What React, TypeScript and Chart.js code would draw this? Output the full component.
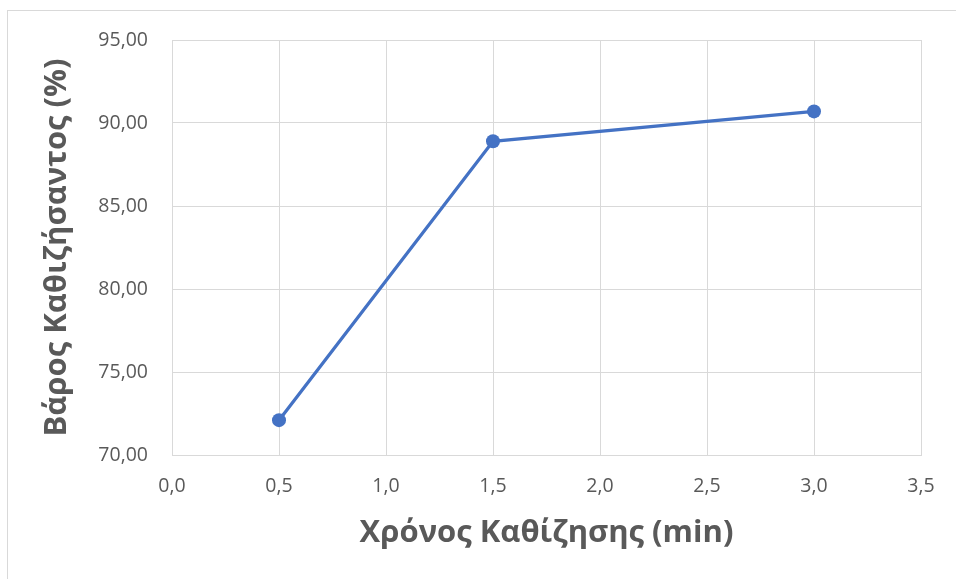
import React, { useEffect, useRef } from "react";
import { Chart, registerables } from "chart.js";

Chart.register(...registerables);

// Settling time (min) and settled weight (%)
const settlingTimes = [0.5, 1.5, 3.0];
const settledWeightPct = [72.1, 88.9, 90.7];

const xTitle = "Χρόνος Καθίζησης (min)";
const yTitle = "Βάρος Καθιζήσαντος (%)";

const X_MIN = 0;
const X_MAX = 3.5;
const X_STEP = 0.5;
const Y_MIN = 70;
const Y_MAX = 95;
const Y_STEP = 5;

const FONT = "'Open Sans', 'DejaVu Sans', sans-serif";
const TEXT = "#595959";
const GRID = "#D9D9D9";
const LINE = "#4472C4";

export default function App() {
  const canvasRef = useRef<HTMLCanvasElement | null>(null);

  useEffect(() => {
    const canvas = canvasRef.current;
    if (!canvas) return;
    const chart = new Chart(canvas, {
      type: "scatter",
      data: {
        datasets: [
          {
            data: settlingTimes.map((t, i) => ({ x: t, y: settledWeightPct[i] })),
            showLine: true,
            borderColor: LINE,
            backgroundColor: LINE,
            borderWidth: 3.25,
            pointRadius: 7,
            pointHoverRadius: 7,
            pointBorderWidth: 0,
            tension: 0,
          },
        ],
      },
      options: {
        responsive: false,
        animation: false,
        events: [],
        layout: { padding: { top: 40, right: 35, left: 0, bottom: 0 } },
        plugins: { legend: { display: false }, tooltip: { enabled: false } },
        scales: {
          x: {
            type: "linear",
            min: X_MIN,
            max: X_MAX,
            ticks: {
              stepSize: X_STEP,
              color: TEXT,
              font: { family: FONT, size: 19.5 },
              padding: 20,
              maxRotation: 0,
              callback: (v: any) => Number(v).toFixed(1).replace(".", ","),
            },
            grid: { color: GRID, lineWidth: 1, drawTicks: false },
            border: { color: GRID, width: 1 },
            title: {
              display: true,
              text: xTitle,
              color: TEXT,
              font: { family: FONT, size: 31, weight: "bold" },
              padding: { top: 0, bottom: 27 },
            },
            afterFit: (scale: any) => {
              scale.height = 124;
            },
          },
          y: {
            type: "linear",
            min: Y_MIN,
            max: Y_MAX,
            ticks: {
              stepSize: Y_STEP,
              color: TEXT,
              font: { family: FONT, size: 19.5 },
              padding: 24,
              callback: (v: any) => Number(v).toFixed(2).replace(".", ","),
            },
            grid: { color: GRID, lineWidth: 1, drawTicks: false },
            border: { color: GRID, width: 1 },
            title: {
              display: true,
              text: yTitle,
              color: TEXT,
              font: { family: FONT, size: 31, weight: "bold" },
              padding: { top: 39, bottom: 0 },
            },
            afterFit: (scale: any) => {
              scale.width = 172;
            },
          },
        },
      },
    });
    return () => chart.destroy();
  }, []);

  return (
    <div
      style={{
        position: "fixed",
        left: 0,
        top: 0,
        width: 956,
        height: 579,
        overflow: "hidden",
        background: "#ffffff",
      }}
    >
      <div
        style={{
          position: "absolute",
          left: 7,
          top: 10,
          width: 1000,
          height: 700,
          border: `1px solid ${GRID}`,
          boxSizing: "border-box",
        }}
      />
      <canvas
        ref={canvasRef}
        width={956}
        height={579}
        style={{ position: "absolute", left: 0, top: 0, width: 956, height: 579 }}
      />
    </div>
  );
}
